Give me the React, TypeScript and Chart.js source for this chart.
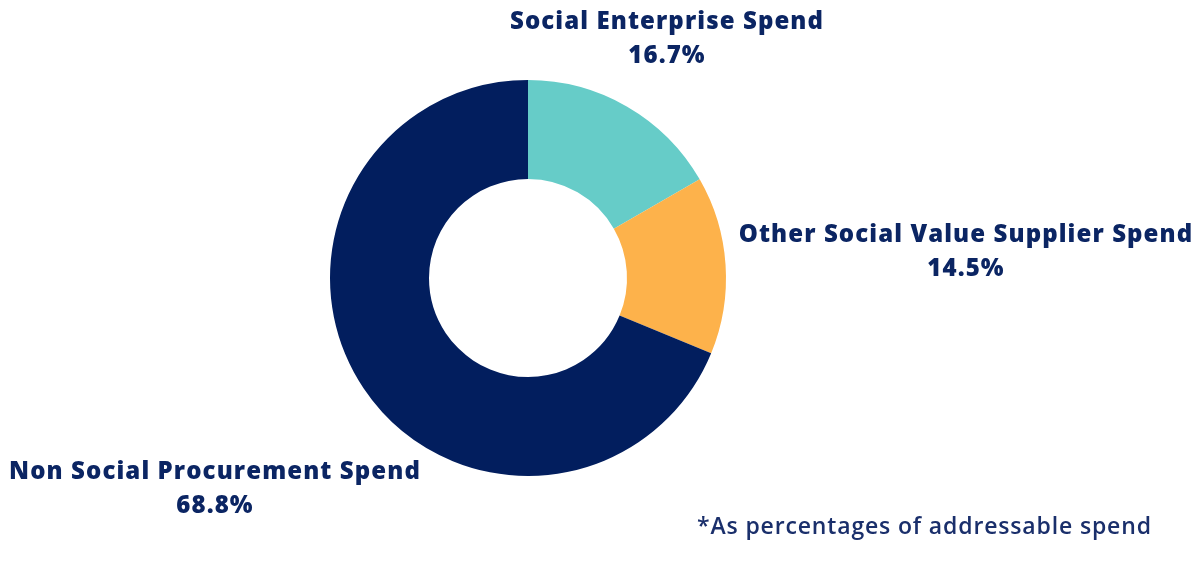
import React, { useEffect, useRef } from "react";
import { Chart, registerables } from "chart.js";

Chart.register(...registerables);

const categories = ["Social Enterprise Spend", "Other Social Value Supplier Spend", "Non Social Procurement Spend"];
const values = [16.7, 14.5, 68.8];
const colors = ["#66CCC8", "#FDB24B", "#021E5E"];
const footnote = "*As percentages of addressable spend";

const TEXT = "#0B2563";
const FONT = "'Open Sans', 'Noto Sans', sans-serif";

// text anchors for each slice label (centre x, middle of first line)
const labelPos = [
  { x: 667, y: 22 },
  { x: 966, y: 235 },
  { x: 215, y: 472 },
];

const labelPlugin = {
  id: "sliceLabels",
  afterDraw(chart: any) {
    const ctx = chart.ctx;
    ctx.save();
    ctx.fillStyle = TEXT;
    ctx.textAlign = "center";
    ctx.textBaseline = "middle";
    const data = chart.data.datasets[0].data as number[];
    chart.data.labels.forEach((lab: string, i: number) => {
      const p = labelPos[i];
      ctx.font = `800 24px ${FONT}`;
      (ctx as any).letterSpacing = "1.1px";
      ctx.fillText(lab, p.x, p.y);
      ctx.fillText(`${data[i].toFixed(1)}%`, p.x, p.y + 34);
    });
    ctx.font = `600 23px ${FONT}`;
    (ctx as any).letterSpacing = "0.85px";
    ctx.fillStyle = "#1A2F6B";
    ctx.textAlign = "left";
    ctx.fillText(footnote, 697, 527);
    ctx.restore();
  },
};

export default function App() {
  const ref = useRef<HTMLCanvasElement>(null);
  useEffect(() => {
    document.body.style.margin = "0";
    const chart = new Chart(ref.current!, {
      type: "doughnut",
      data: {
        labels: categories,
        datasets: [
          {
            data: values,
            backgroundColor: colors,
            borderWidth: 0,
          },
        ],
      },
      options: {
        animation: false,
        responsive: false,
        cutout: "50%",
        layout: { padding: { top: 80, bottom: 97, left: 330, right: 474 } },
        plugins: { legend: { display: false }, tooltip: { enabled: false } },
      },
      plugins: [labelPlugin],
    });
    return () => chart.destroy();
  }, []);
  return (
    <div style={{ position: "fixed", left: 0, top: 0, width: 1200, height: 573, background: "#fff" }}>
      <canvas ref={ref} width={1200} height={573} style={{ width: 1200, height: 573 }} />
    </div>
  );
}
